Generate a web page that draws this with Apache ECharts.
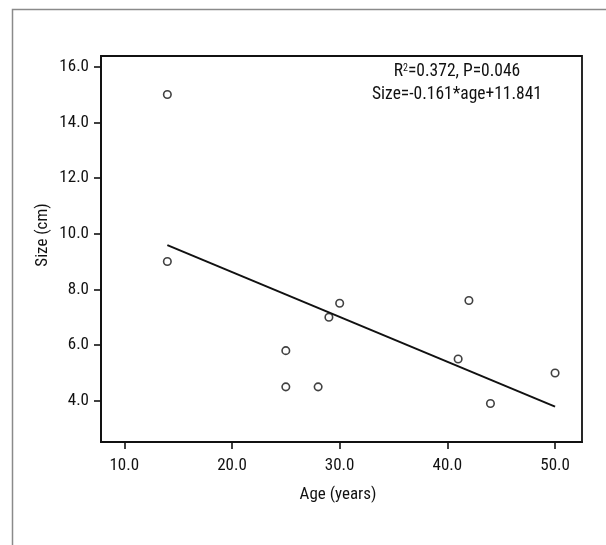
<!DOCTYPE html>
<html><head><meta charset="utf-8">
<script src="https://cdn.jsdelivr.net/npm/echarts@6/dist/echarts.min.js"></script>
<style>html,body{margin:0;padding:0;background:#fff}#c{width:606px;height:545px}</style>
</head><body><div id="c"></div>
<script>
const ages = [14, 14, 25, 25, 28, 29, 30, 41, 42, 44, 50];
const sizes = [15.0, 9.0, 5.8, 4.5, 4.5, 7.0, 7.5, 5.5, 7.6, 3.9, 5.0];
const fitAges = [14, 50];
const fitSizes = [9.59, 3.79];
const xTicks = [10, 20, 30, 40, 50];
const yTicks = [4, 6, 8, 10, 12, 14, 16];
const statsLine1 = ['R', '2', '=0.372, P=0.046'];
const statsLine2 = 'Size=-0.161*age+11.841';
const xTitle = 'Age (years)';
const yTitle = 'Size (cm)';

const FONT = '"Roboto Condensed","DejaVu Sans Condensed",sans-serif';
const TXT = '#111';
const chart = echarts.init(document.getElementById('c'), null, {renderer: 'canvas'});
const fmt = v => Number(v).toFixed(1);
chart.setOption({
  animation: false,
  backgroundColor: '#fff',
  grid: {left: 101, top: 56, right: 24, bottom: 103, show: true, borderColor: '#111', borderWidth: 1.8, backgroundColor: 'transparent'},
  xAxis: {
    type: 'value', min: 7.84, max: 52.5,
    splitLine: {show: false},
    axisLine: {show: true, onZero: false, lineStyle: {color: '#111', width: 1.8}},
    axisTick: {show: true, length: 7, lineStyle: {color: '#111', width: 1.6}, customValues: xTicks},
    axisLabel: {margin: 15, color: TXT, fontFamily: FONT, fontSize: 17, formatter: fmt, customValues: xTicks},
    name: xTitle, nameLocation: 'middle', nameGap: 44,
    nameTextStyle: {color: TXT, fontFamily: FONT, fontSize: 17, padding: [0, 7, 0, 0]}
  },
  yAxis: {
    type: 'value', min: 2.52, max: 16.38,
    splitLine: {show: false},
    axisLine: {show: true, onZero: false, lineStyle: {color: '#111', width: 1.8}},
    axisTick: {show: true, length: 7, lineStyle: {color: '#111', width: 1.6}, customValues: yTicks},
    axisLabel: {margin: 12, color: TXT, fontFamily: FONT, fontSize: 17, formatter: fmt, customValues: yTicks}
  },
  graphic: [
    {type: 'rect', left: 10, top: 7, silent: true, z: -1,
     shape: {x: 0, y: 0, width: 700, height: 700},
     style: {fill: 'none', stroke: '#8a8a8a', lineWidth: 1.5}},
    {type: 'text', x: 43, y: 235, rotation: Math.PI / 2, silent: true,
     style: {text: yTitle, fill: TXT, font: '17px ' + FONT, align: 'center', verticalAlign: 'middle'}},
    {type: 'text', x: 457, y: 72, silent: true,
     style: {text: statsLine1[0] + '{sup|' + statsLine1[1] + '}' + statsLine1[2],
       fill: TXT, font: '17.5px ' + FONT, align: 'center', verticalAlign: 'middle',
       rich: {sup: {fontSize: 10, fontFamily: FONT, fill: TXT, verticalAlign: 'top', padding: [0, 0, 8, 0]}}}},
    {type: 'text', x: 457, y: 95, silent: true,
     style: {text: statsLine2, fill: TXT, font: '17.5px ' + FONT, align: 'center', verticalAlign: 'middle'}}
  ],
  series: [
    {type: 'line', data: fitAges.map((a, i) => [a, fitSizes[i]]), symbol: 'none',
     lineStyle: {color: '#111', width: 2}, z: 2},
    {type: 'scatter', data: ages.map((a, i) => [a, sizes[i]]), symbol: 'circle', symbolSize: 7.5,
     itemStyle: {color: '#fff', borderColor: '#111', borderWidth: 1.6}, z: 3}
  ]
});
</script></body></html>
